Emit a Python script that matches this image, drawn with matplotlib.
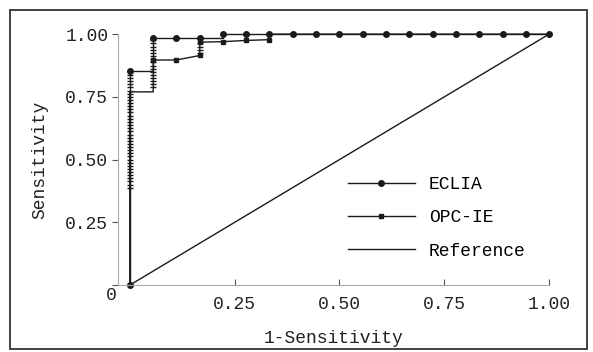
import matplotlib
matplotlib.use('Agg')
import matplotlib.pyplot as plt
from matplotlib.patches import Rectangle

# ROC corner points (1-Sensitivity, Sensitivity)
eclia_x = [0, 0, 0.056, 0.056, 0.111, 0.167, 0.222, 0.222, 0.278, 0.333, 0.389, 0.444,
           0.5, 0.556, 0.611, 0.667, 0.722, 0.778, 0.833, 0.889, 0.944, 1.0]
eclia_y = [0, 0.853, 0.853, 0.984, 0.984, 0.984, 0.984, 1.0, 1.0, 1.0, 1.0, 1.0,
           1.0, 1.0, 1.0, 1.0, 1.0, 1.0, 1.0, 1.0, 1.0, 1.0]
eclia_dot_x = [0, 0, 0.056, 0.111, 0.167, 0.222, 0.278, 0.333, 0.389, 0.444, 0.5,
               0.556, 0.611, 0.667, 0.722, 0.778, 0.833, 0.889, 0.944, 1.0]
eclia_dot_y = [0, 0.853, 0.984, 0.984, 0.984, 1.0, 1.0, 1.0, 1.0, 1.0, 1.0,
               1.0, 1.0, 1.0, 1.0, 1.0, 1.0, 1.0, 1.0, 1.0]

opc_x = [0, 0, 0.056, 0.056, 0.111, 0.167, 0.167, 0.222, 0.278, 0.333, 0.333, 1.0]
opc_y = [0, 0.77, 0.77, 0.897, 0.897, 0.915, 0.968, 0.97, 0.975, 0.978, 1.0, 1.0]
opc_sq_x = [0.056, 0.111, 0.167, 0.167, 0.222, 0.278, 0.333]
opc_sq_y = [0.897, 0.897, 0.915, 0.968, 0.97, 0.975, 0.978]

# tied points along the vertical steps
tie_x0 = [0.388, 0.400, 0.413, 0.425, 0.438, 0.450, 0.463, 0.475, 0.488, 0.500,
          0.513, 0.525, 0.538, 0.550, 0.563, 0.575, 0.588, 0.600, 0.613, 0.625,
          0.638, 0.650, 0.663, 0.675, 0.688, 0.700, 0.713, 0.725, 0.738, 0.750,
          0.763, 0.775, 0.788, 0.800, 0.813, 0.825, 0.838]
tie_x1 = [0.788, 0.800, 0.813, 0.825, 0.838, 0.850, 0.863, 0.875, 0.888, 0.900,
          0.913, 0.925, 0.938, 0.950, 0.963, 0.975]
tie_x3 = [0.925, 0.938, 0.950, 0.963]

ref_x = [0, 1.0]
ref_y = [0, 1.0]

xtick_vals = [0.25, 0.5, 0.75, 1.0]
xtick_labels = ['0.25', '0.50', '0.75', '1.00']
ytick_vals = [0, 0.25, 0.5, 0.75, 1.0]
ytick_labels = ['', '0.25', '0.50', '0.75', '1.00']

font = 'Liberation Mono'
ink = '#1a1a1a'

fig = plt.figure(figsize=(5.93, 3.52), dpi=100)
ax = fig.add_axes([0.199, 0.19, 0.727, 0.713])

ax.plot(eclia_x, eclia_y, color=ink, lw=1.0, clip_on=False)
ax.plot(eclia_dot_x, eclia_dot_y, 'o', color=ink, ms=4, clip_on=False)
ax.plot(opc_x, opc_y, color=ink, lw=1.0, clip_on=False)
ax.plot(opc_sq_x, opc_sq_y, 's', color=ink, ms=3.5, clip_on=False)
ax.plot([0] * len(tie_x0), tie_x0, '_', color=ink, ms=5, mew=1, clip_on=False)
ax.plot([0.056] * len(tie_x1), tie_x1, '_', color=ink, ms=5, mew=1, clip_on=False)
ax.plot([0.167] * len(tie_x3), tie_x3, '_', color=ink, ms=5, mew=1, clip_on=False)
ax.plot(ref_x, ref_y, color=ink, lw=1.0, clip_on=False)

ax.set_xlim(-0.028, 1.0)
ax.set_ylim(0, 1.0)

for s in ['top', 'right']:
    ax.spines[s].set_visible(False)
for s in ['left', 'bottom']:
    ax.spines[s].set_color('#aaaaaa')
    ax.spines[s].set_linestyle((0, (1, 1)))
    ax.spines[s].set_linewidth(0.8)

ax.set_xticks(xtick_vals)
ax.set_xticklabels(xtick_labels, fontfamily=font, fontsize=13, color='#222222')
ax.set_yticks(ytick_vals)
ax.set_yticklabels(ytick_labels, fontfamily=font, fontsize=13, color='#222222')
ax.tick_params(axis='x', direction='in', length=4, color='#555555', pad=8)
ax.tick_params(axis='y', direction='out', length=4, color='#555555', pad=3)
# shared origin label
ax.text(-0.043, -0.008, '0', ha='center', va='top', fontfamily=font,
        fontsize=13, color='#222222')

ax.set_xlabel('1-Sensitivity', fontfamily=font, fontsize=13, color='#222222', labelpad=12)
ax.set_ylabel('Sensitivity', fontfamily=font, fontsize=13, color='#222222', labelpad=12)

h1, = ax.plot([], [], color=ink, lw=1.0, marker='o', ms=4)
h2, = ax.plot([], [], color=ink, lw=1.0, marker='s', ms=3.5)
h3, = ax.plot([], [], color=ink, lw=1.0)
ax.legend([h1, h2, h3], ['ECLIA', 'OPC-IE', 'Reference'], loc='upper left',
          bbox_to_anchor=(0.512, 0.47), frameon=False, borderpad=0,
          handlelength=3.7, handletextpad=0.8, labelspacing=0.9,
          prop={'family': font, 'size': 13})

fig.patches.append(Rectangle((10 / 593, 3 / 352), 577 / 593, 339 / 352,
                             transform=fig.transFigure, fill=False,
                             edgecolor='#333333', lw=1.3))

fig.savefig('out.png', dpi=100)
